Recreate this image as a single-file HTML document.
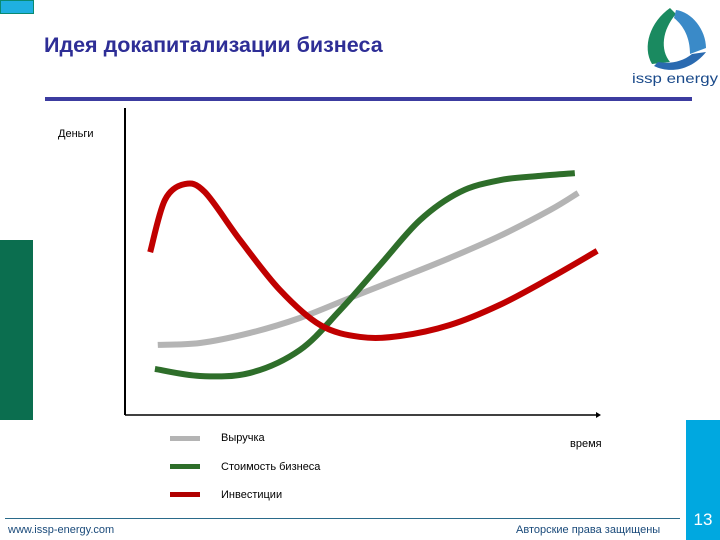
<!DOCTYPE html>
<html><head><meta charset="utf-8"><style>
body{margin:0;width:720px;height:540px;overflow:hidden;background:#fff;font-family:"Liberation Sans",sans-serif;position:relative}
.a{position:absolute}
</style></head><body>
<div class="a" style="left:0;top:0;width:32px;height:12px;background:#1fb0e0;border:1px solid #0a8a70"></div>
<div class="a" style="left:0;top:240px;width:33px;height:180px;background:#0b6e4f"></div>
<div class="a" style="left:686px;top:420px;width:34px;height:120px;background:#00a8e0"></div>
<div class="a" style="left:686px;top:510px;width:34px;text-align:center;color:#fff;font-size:17px">13</div>
<div class="a" style="left:44px;top:33px;font-size:21.5px;font-weight:bold;color:#2e2e96">Идея докапитализации бизнеса</div>
<div class="a" style="left:45px;top:97px;width:647px;height:4px;background:#3c3ca0"></div>
<svg class="a" style="left:630px;top:2px" width="90" height="88" viewBox="0 0 90 88">
<path d="M40 6 C20 20 12 45 22 62 L40 60 C30 48 32 28 46 12 Z" fill="#1a8a60"/>
<path d="M46 8 C62 10 76 28 76 46 L60 52 C60 36 54 24 44 16 Z" fill="#3a8ac8"/>
<path d="M24 64 C40 72 62 68 76 50 L62 52 C52 60 40 62 28 60 Z" fill="#2a6ab0"/>
<text x="45" y="81" text-anchor="middle" font-family="Liberation Sans,sans-serif" font-size="14" textLength="86" lengthAdjust="spacingAndGlyphs" fill="#1a4a8a">issp energy</text>
</svg>
<div class="a" style="left:58px;top:128px;font-size:11px">Деньги</div>
<div class="a" style="left:570px;top:438px;font-size:11px">время</div>
<svg class="a" style="left:0;top:0" width="720" height="540" id="ch">
<line x1="125" y1="415" x2="125" y2="108" stroke="#000" stroke-width="2"/>
<line x1="125" y1="415" x2="596" y2="415" stroke="#000" stroke-width="1.5"/>
<polygon points="596,412 601,415 596,418" fill="#000"/>
</svg>
<div class="a" style="left:170px;top:436px;width:30px;height:5px;background:#b4b4b4"></div>
<div class="a" style="left:170px;top:464px;width:30px;height:5px;background:#2e6e2a"></div>
<div class="a" style="left:170px;top:492px;width:30px;height:5px;background:#b00000"></div>
<div class="a" style="left:221px;top:432px;font-size:11px">Выручка</div>
<div class="a" style="left:221px;top:461px;font-size:11px">Стоимость бизнеса</div>
<div class="a" style="left:221px;top:489px;font-size:11px">Инвестиции</div>
<div class="a" style="left:5px;top:518px;width:675px;height:1px;background:#2a6a8a"></div>
<div class="a" style="left:8px;top:524px;font-size:11px;color:#1a4a7a">www.issp-energy.com</div>
<div class="a" style="left:516px;top:524px;font-size:11px;color:#1a4a7a">Авторские права защищены</div>
<script>
const grayT=[6.9,15.8,26.3,36.8,47.4,57.9,68.4,78.9,89.5,95.4];
const grayV=[23,23.6,26.9,31.8,38.4,44.9,51.5,58.7,67.2,72.8];
const greenT=[6.3,15.8,26.3,36.8,45.3,53.7,62.1,70.5,78.9,87.4,94.7];
const greenV=[15.1,12.8,13.8,21.3,34.4,49.2,63.9,73.1,77,78.4,79.3];
const redT=[5.3,8.4,12.6,16.8,24.2,32.6,41.1,49.5,57.9,68.4,78.9,89.5,99.4];
const redV=[53.4,70.5,75.7,73.1,57.4,41,29.5,25.6,25.9,29.5,36.1,44.9,53.8];
const sx=t=>125+t*4.75, sy=v=>415-v*3.05;
function path(T,V){const p=T.map((t,i)=>[sx(t),sy(V[i])]);let d=`M${p[0][0]},${p[0][1]}`;
for(let i=0;i<p.length-1;i++){const p0=p[i-1]||p[i],p1=p[i],p2=p[i+1],p3=p[i+2]||p2;
d+=` C${p1[0]+(p2[0]-p0[0])/6},${p1[1]+(p2[1]-p0[1])/6} ${p2[0]-(p3[0]-p1[0])/6},${p2[1]-(p3[1]-p1[1])/6} ${p2[0]},${p2[1]}`;}return d;}
const svg=document.getElementById('ch');
[[grayT,grayV,'#b4b4b4','revenue-line'],[greenT,greenV,'#2e6e2a','business-value-line'],[redT,redV,'#c00000','investment-line']].forEach(s=>{
const el=document.createElementNS('http://www.w3.org/2000/svg','path');
el.setAttribute('d',path(s[0],s[1]));el.setAttribute('fill','none');el.setAttribute('stroke',s[2]);el.setAttribute('stroke-width','6');


svg.appendChild(el);});
</script>
</body></html>
